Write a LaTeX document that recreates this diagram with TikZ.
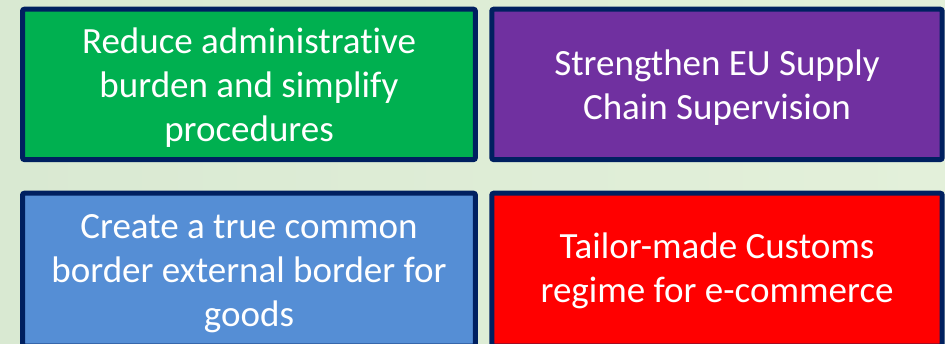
\documentclass[tikz,border=0pt]{standalone}
\usepackage{fontspec}
\setmainfont{Carlito}[RawFeature={-liga;-clig;-dlig}]
\definecolor{bgL}{HTML}{D9E9D2}
\definecolor{bgR}{HTML}{E3F0DA}
\definecolor{navy}{HTML}{002060}
\definecolor{cgreen}{HTML}{00B050}
\definecolor{cpurple}{HTML}{7030A0}
\definecolor{cblue}{HTML}{558ED5}
\definecolor{cred}{HTML}{FF0000}
\newcommand{\mystrut}{\rule[-9.5pt]{0pt}{44pt}}
\tikzset{
  goalbox/.style={draw=navy, line width=5pt, rounded corners=2pt},
  goaltext/.style={text=white, align=center, inner sep=0pt,
    font=\fontsize{37pt}{44pt}\selectfont}
}
\begin{document}
\begin{tikzpicture}[x=1pt,y=-1pt]
\useasboundingbox (0,0) rectangle (945,343);
\shade[left color=bgL, right color=bgR] (0,0) rectangle (945,343);
\begin{scope}
\clip (0,0) rectangle (945,343);
\draw[goalbox, fill=cgreen] (22.5,9.2) rectangle (475.4,159.6);
\draw[goalbox, fill=cpurple] (491.8,9.2) rectangle (942.2,159.6);
\draw[goalbox, fill=cblue] (22.5,193.2) rectangle (475.4,346);
\draw[goalbox, fill=cred] (491.8,193.2) rectangle (942.2,346);
\end{scope}
\node[goaltext] (t1) at (249,84.5) {\mystrut Reduce administrative\\\mystrut burden and simplify\\\mystrut procedures};
\node[goaltext] (t2) at (717,84.5) {\mystrut Strengthen EU Supply\\\mystrut Chain Supervision};
\node[goaltext] (t3) at (249,269.5) {\mystrut Create a true common\\\mystrut border external border for\\\mystrut goods};
\node[goaltext] (t4) at (717,267.5) {\mystrut Tailor-made Customs\\\mystrut regime for e-commerce};
\end{tikzpicture}
\end{document}
